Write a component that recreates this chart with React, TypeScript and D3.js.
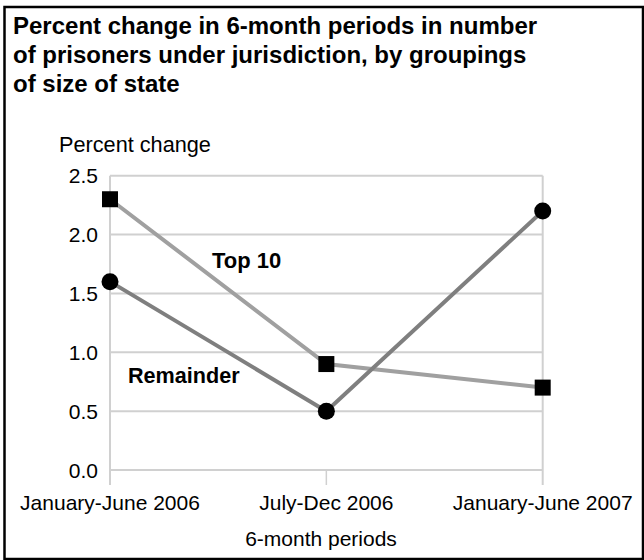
import React from "react";
import * as d3 from "d3";

const categories = ["January-June 2006", "July-Dec 2006", "January-June 2007"];
const top10 = [2.3, 0.9, 0.7];
const remainder = [1.6, 0.5, 2.2];
const yTicks = [0, 0.5, 1.0, 1.5, 2.0, 2.5];
const titleLines = [
  "Percent change in 6-month periods in number",
  "of prisoners under jurisdiction, by groupings",
  "of size of state",
];

export default function App() {
  const W = 644;
  const H = 560;
  const x = d3.scalePoint<string>().domain(categories).range([110, 542.7]).padding(0);
  const y = d3.scaleLinear().domain([0, 2.5]).range([470, 175.7]);
  const line = d3
    .line<number>()
    .x((_, i) => x(categories[i]) as number)
    .y((d) => y(d));
  const font = "'Liberation Sans', Arial, Helvetica, sans-serif";
  const grid = "#d0d0d0";
  const x0 = x(categories[0]) as number;
  const x1 = x(categories[categories.length - 1]) as number;

  return (
    <svg
      width={W}
      height={H}
      style={{ position: "absolute", left: 0, top: 0, background: "#fff" }}
      fontFamily={font}
    >
      <rect x={4.5} y={7} width={638.5} height={552} fill="#fff" stroke="#000" strokeWidth={2.5} />
      {titleLines.map((t, i) => (
        <text key={i} x={13} y={34 + i * 29} fontSize={24} fontWeight="bold" fill="#000">
          {t}
        </text>
      ))}
      <text x={59} y={152} fontSize={21.7} fill="#000">
        Percent change
      </text>
      {yTicks.map((t) => (
        <g key={t}>
          <line x1={x0} x2={x1} y1={y(t)} y2={y(t)} stroke={grid} strokeWidth={2} />
          <text x={98} y={y(t) + 7.5} fontSize={21} textAnchor="end" fill="#000">
            {t.toFixed(1)}
          </text>
        </g>
      ))}
      <line x1={x0} x2={x0} y1={y(2.5)} y2={485} stroke={grid} strokeWidth={2} />
      <line x1={x1} x2={x1} y1={y(2.5)} y2={485} stroke={grid} strokeWidth={2} />
      <line
        x1={x(categories[1]) as number}
        x2={x(categories[1]) as number}
        y1={y(0)}
        y2={485}
        stroke={grid}
        strokeWidth={1.5}
      />
      {categories.map((c) => (
        <text key={c} x={x(c) as number} y={510} fontSize={21} textAnchor="middle" fill="#000">
          {c}
        </text>
      ))}
      <text x={321} y={546} fontSize={21} textAnchor="middle" fill="#000">
        6-month periods
      </text>
      <path d={line(top10) || ""} fill="none" stroke="#a0a0a0" strokeWidth={4} />
      <path d={line(remainder) || ""} fill="none" stroke="#7f7f7f" strokeWidth={4} />
      {top10.map((v, i) => (
        <rect
          key={"s" + i}
          x={(x(categories[i]) as number) - 8}
          y={y(v) - 8}
          width={16}
          height={16}
          fill="#000"
        />
      ))}
      {remainder.map((v, i) => (
        <circle key={"c" + i} cx={x(categories[i]) as number} cy={y(v)} r={8.5} fill="#000" />
      ))}
      <text x={212} y={268} fontSize={22} fontWeight="bold" fill="#000">
        Top 10
      </text>
      <text x={128} y={383} fontSize={21.6} fontWeight="bold" fill="#000">
        Remainder
      </text>
    </svg>
  );
}
